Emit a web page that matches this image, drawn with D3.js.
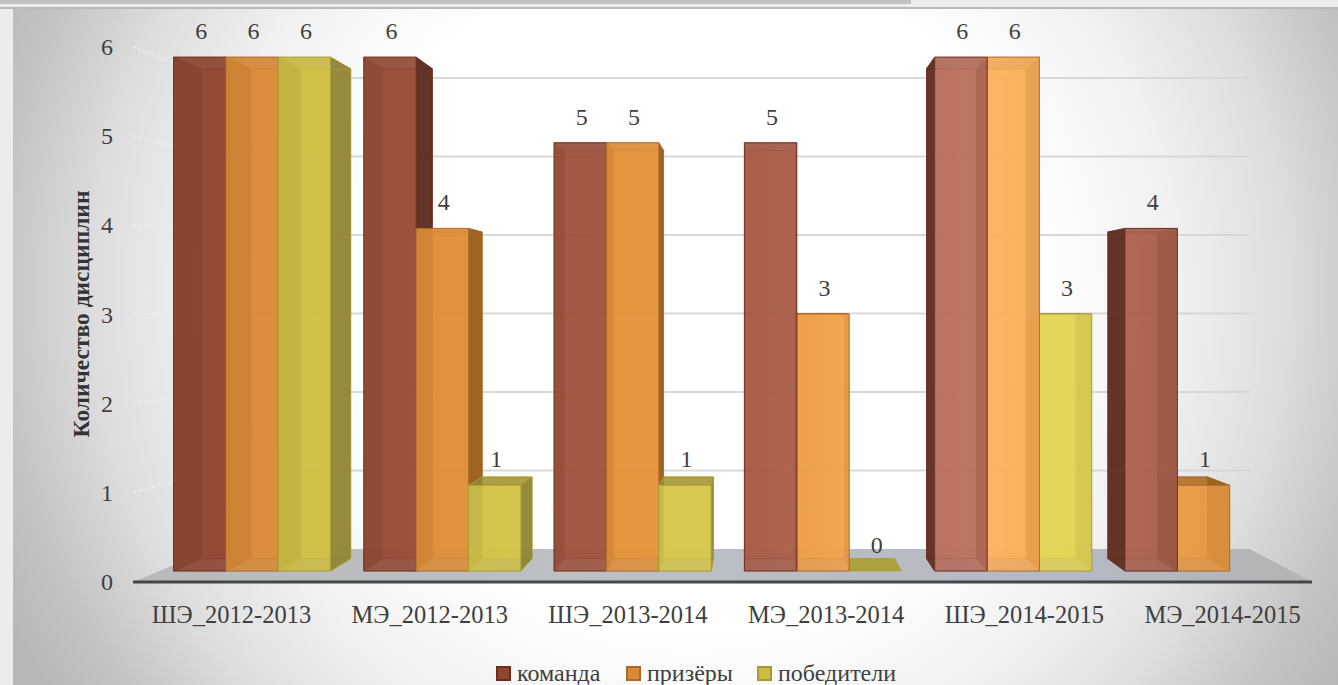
<!DOCTYPE html>
<html>
<head>
<meta charset="utf-8">
<script src="https://cdn.jsdelivr.net/npm/d3@7/dist/d3.min.js"></script>
<style>
html,body{margin:0;padding:0;background:#ececea;overflow:hidden}
svg{display:block}
text{font-family:"Liberation Serif",serif;fill:#404040}
</style>
</head>
<body>
<svg id="chart" width="1338" height="685"></svg>
<script>
const categories = ["ШЭ_2012-2013","МЭ_2012-2013","ШЭ_2013-2014","МЭ_2013-2014","ШЭ_2014-2015","МЭ_2014-2015"];
const seriesNames = ["команда","призёры","победители"];
const komanda    = [6,6,5,5,6,4];
const prizery    = [6,4,5,3,6,1];
const pobediteli = [6,1,1,0,3,null];
const yTicks = [0,1,2,3,4,5,6];
const axisTitle = "Количество дисциплин";

const seriesValues = [komanda, prizery, pobediteli];
const W = 1338, H = 685;
const svg = d3.select("#chart");
const defs = svg.append("defs");

// Perspective: world coordinates live on the front plane of the floor; depth scales toward a vanishing point.
const VX = 793, VY = 306, BAR_VX = 760;
const y = d3.scaleLinear().domain([0,6]).range([582,46.8]);
const x0 = d3.scaleBand().domain(categories).range([130.4,1319.7]);
const x1 = d3.scaleBand().domain(seriesNames).range([0,x0.bandwidth()]).paddingInner(0).paddingOuter(0.318);
const S_WALL = 0.88, S_FRONT = 0.96, S_BACK = 0.915;
const proj = (wx,v,s) => [VX+(wx-VX)*s, VY+(y(v)-VY)*s];
const barBack = (wx,v) => {
  const f = proj(wx,v,S_FRONT);
  return [BAR_VX+(f[0]-BAR_VX)*(S_BACK/S_FRONT), VY+(y(v)-VY)*S_BACK];
};
const poly = pts => pts.map(p=>p.join(",")).join(" ");

// background
const bg = defs.append("radialGradient").attr("id","bg").attr("gradientUnits","userSpaceOnUse")
  .attr("cx",0).attr("cy",0).attr("r",1)
  .attr("gradientTransform","translate(690,290) scale(690,680)");
[[0,"#ffffff"],[0.5,"#ffffff"],[0.7,"#f1f1f1"],[0.86,"#dedede"],[1,"#c4c4c4"],[1.1,"#b8b8b8"]].forEach(s=>bg.append("stop").attr("offset",s[0]/1.1).attr("stop-color",s[1]));
bg.attr("gradientTransform","translate(690,290) scale(759,748)");

svg.append("rect").attr("width",W).attr("height",H).attr("fill","#ececea");
svg.append("rect").attr("x",0).attr("y",0).attr("width",911).attr("height",4).attr("fill","#c2c2c2");
svg.append("rect").attr("x",0).attr("y",7).attr("width",W).attr("height",2).attr("fill","#b9b9b9");
svg.append("rect").attr("x",13).attr("y",9).attr("width",W-13).attr("height",H-9).attr("fill","url(#bg)");

const soft = defs.append("filter").attr("id","soft").attr("x","-5%").attr("y","-5%").attr("width","110%").attr("height","110%");
soft.append("feGaussianBlur").attr("stdDeviation",0.6);

const plot = svg.append("g").attr("filter","url(#soft)");

// floor
const floorGrad = defs.append("linearGradient").attr("id","floor").attr("gradientUnits","userSpaceOnUse")
  .attr("x1",133).attr("x2",1312).attr("y1",0).attr("y2",0);
[[0,"#b9b9b9"],[0.4,"#bcc0c4"],[0.8,"#b6b8c4"],[1,"#b4b4b4"]].forEach(s=>floorGrad.append("stop").attr("offset",s[0]).attr("stop-color",s[1]));
const FL = 133, FR = 1312;
plot.append("polygon").attr("fill","url(#floor)")
  .attr("points",poly([proj(FL,0,1),proj(FR,0,1),proj(FR,0,S_WALL),proj(FL,0,S_WALL)]));

// gridlines: side walls + back wall
const grid = plot.append("g");
yTicks.filter(v=>v>0).forEach(v=>{
  grid.append("line").datum(v)
    .attr("x1",proj(FL,v,1)[0]).attr("y1",proj(FL,v,1)[1])
    .attr("x2",proj(FL,v,S_WALL)[0]).attr("y2",proj(FL,v,S_WALL)[1])
    .attr("stroke","#eeeef2").attr("stroke-width",1.4).attr("stroke-dasharray","3 2");
  grid.append("line").datum(v)
    .attr("x1",proj(FL,v,S_WALL)[0]).attr("y1",proj(FL,v,S_WALL)[1])
    .attr("x2",proj(FR,v,S_WALL)[0]).attr("y2",proj(FR,v,S_WALL)[1])
    .attr("stroke","#d8d8d8").attr("stroke-width",2);
});

const palette = {
  "команда":   {front:["#8f4630","#a85a45","#bd7462","#9e5540"], dark:"#5c3024", edge:"#6b2c1c"},
  "призёры":   {front:["#d98a38","#e6953c","#ffb562","#dd8e38"], dark:"#9a5e20", edge:"#a8692a"},
  "победители":{front:["#cdbc42","#d8c850","#e4d65a","#e0d050"], dark:"#8f8638", edge:"#a89a30"}
};
seriesNames.forEach((n,i)=>{
  const g = defs.append("linearGradient").attr("id","s"+i).attr("gradientUnits","userSpaceOnUse")
    .attr("x1",170).attr("x2",1290).attr("y1",0).attr("y2",0);
  [0,0.5,0.72,1].forEach((o,k)=>g.append("stop").attr("offset",o).attr("stop-color",palette[n].front[k]));
});

// bars, painted farthest from the vanishing point first
const bars = [];
categories.forEach((c,ci)=>seriesNames.forEach((n,si)=>{
  const v = seriesValues[si][ci];
  if(v===null) return;
  const wx = x0(c)+x1(n), w = x1.bandwidth();
  bars.push({c,n,si,v,wx,w,dist:Math.abs(wx+w/2-VX)});
}));
bars.sort((a,b)=>d3.descending(a.dist,b.dist));

const barG = plot.append("g");
bars.forEach(b=>{
  const L=b.wx, R=b.wx+b.w, pal=palette[b.n], fill=`url(#s${b.si})`;
  const g = barG.append("g").datum(b);
  const F=(wx,v)=>proj(wx,v,S_FRONT), B=barBack;
  const face=(pts,f,op,st)=>g.append("polygon").attr("points",poly(pts))
    .attr("fill",f).attr("fill-opacity",op)
    .attr("stroke",st||pal.edge).attr("stroke-width",st?1:0.9).attr("stroke-opacity",0.8);
  if(b.v===0){
    face([F(L,0),F(R,0),B(R,0),B(L,0)],"#a8a030",0.9,"#a8a030");
    return;
  }
  face([B(L,0),B(R,0),B(R,b.v),B(L,b.v)],fill,0.9);
  face([F(L,0),F(R,0),B(R,0),B(L,0)],pal.dark,0.4);
  face([F(L,0),F(L,b.v),B(L,b.v),B(L,0)],pal.dark,0.92);
  face([F(R,0),F(R,b.v),B(R,b.v),B(R,0)],pal.dark,0.92);
  face([F(L,b.v),F(R,b.v),B(R,b.v),B(L,b.v)],pal.dark,0.6);
  face([F(L,0),F(R,0),F(R,b.v),F(L,b.v)],fill,0.82);
});

// axis base line
plot.append("line").attr("x1",FL).attr("x2",FR).attr("y1",y(0)).attr("y2",y(0))
  .attr("stroke","#43474a").attr("stroke-width",3);

// value labels
const labels = svg.append("g").attr("font-size",24).attr("text-anchor","middle");
bars.forEach(b=>{
  const top = proj(b.wx+b.w/2,b.v,S_FRONT);
  labels.append("text").attr("x",top[0]+1.5).attr("y",top[1]-18).text(b.v);
});

// axes
const yAxis = svg.append("g").attr("transform","translate(113,0)")
  .call(d3.axisLeft(y).tickValues(yTicks).tickSize(0).tickPadding(0).tickFormat(d3.format("d")));
yAxis.select(".domain").remove();
yAxis.selectAll("text").attr("font-size",24).style("fill","#404040");

const xAxis = svg.append("g").attr("transform","translate(2,0)")
  .call(d3.axisBottom(x0).tickSize(0).tickPadding(0));
xAxis.select(".domain").remove();
xAxis.selectAll("text").attr("y",623).attr("dy",0).attr("font-size",24.5).style("fill","#404040");

svg.append("text").attr("transform","translate(88.5,314) rotate(-90)")
  .attr("text-anchor","middle").attr("font-size",23.5).attr("font-weight","bold").style("fill","#333")
  .text(axisTitle);

// legend
const legendX = d3.scaleOrdinal().domain(seriesNames).range([496,626,757]);
const legend = svg.selectAll("g.leg").data(seriesNames).join("g").attr("class","leg")
  .attr("transform",d=>`translate(${legendX(d)},666)`);
legend.append("rect").attr("x",1).attr("y",1).attr("width",13).attr("height",13)
  .attr("fill",d=>palette[d].front[0]).attr("stroke",d=>palette[d].edge).attr("stroke-width",2);
legend.append("text").attr("x",21).attr("y",15).attr("font-size",24).text(d=>d);
</script>
</body>
</html>
